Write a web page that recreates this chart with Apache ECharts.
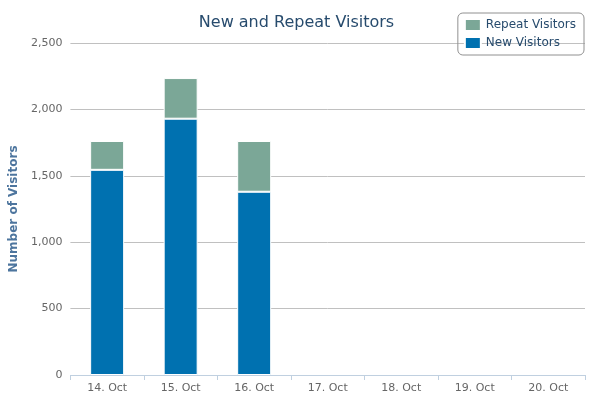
<!DOCTYPE html>
<html lang="en">
<head>
    <meta charset="UTF-8">
    <title>echarts</title>
    <style>body{margin:0;background:#fff}</style>
</head>
<body>
    <div id="div_bar" style="width: 593px; height: 401px;"></div>
</body>
<script src="https://cdn.jsdelivr.net/npm/echarts@6/dist/echarts.min.js"></script>
<script type="text/javascript">
    var categories = ['14. Oct', '15. Oct', '16. Oct', '17. Oct', '18. Oct', '19. Oct', '20. Oct'];
    var newVisitors = [1545, 1930, 1380, null, null, null, null];
    var repeatVisitors = [217, 306, 382, null, null, null, null];
    var yTicks = [0, 500, 1000, 1500, 2000, 2500];

    var font = 'DejaVu Sans';
    var option = {
        animation: false,
        title: {
            text: 'New and Repeat Visitors', left: 'center', top: 10,
            textStyle: {color: '#274b6d', fontSize: 16, fontWeight: 'normal', fontFamily: font}
        },
        legend: {
            orient: 'vertical', right: 9, top: 13,
            data: ['Repeat Visitors', 'New Visitors'],
            icon: 'rect', itemWidth: 16, itemHeight: 12, itemGap: 4,
            borderColor: '#909090', borderWidth: 1, borderRadius: 5, padding: [5, 8, 5, 6],
            textStyle: {color: '#274b6d', fontSize: 12, fontFamily: font}
        },
        grid: {left: 68, right: 8, top: 43, bottom: 26},
        xAxis: {
            type: 'category', data: categories,
            axisLine: {lineStyle: {color: '#c0d0e0'}},
            axisTick: {show: true, lineStyle: {color: '#c0d0e0'}, length: 5},
            axisLabel: {color: '#666', fontSize: 11, fontFamily: font}
        },
        yAxis: {
            type: 'value', min: 0, max: yTicks[yTicks.length - 1], interval: 500,
            name: 'Number of Visitors', nameLocation: 'middle', nameGap: 44,
            nameTextStyle: {color: '#4d759e', fontSize: 12, fontWeight: 'bold', fontFamily: font},
            splitLine: {lineStyle: {color: '#c0c0c0'}},
            axisLine: {show: false}, axisTick: {show: false},
            axisLabel: {color: '#666', fontSize: 11, fontFamily: font}
        },
        series: [
            {name: 'New Visitors', type: 'bar', stack: 'v', data: newVisitors, barWidth: 34,
                itemStyle: {color: '#0071b0', borderColor: '#fff', borderWidth: 1}},
            {name: 'Repeat Visitors', type: 'bar', stack: 'v', data: repeatVisitors, barWidth: 34,
                itemStyle: {color: '#7ba797', borderColor: '#fff', borderWidth: 1}}
        ]
    };
    var echart = echarts.init(document.getElementById('div_bar'));
    echart.setOption(option);
</script>
</html>
